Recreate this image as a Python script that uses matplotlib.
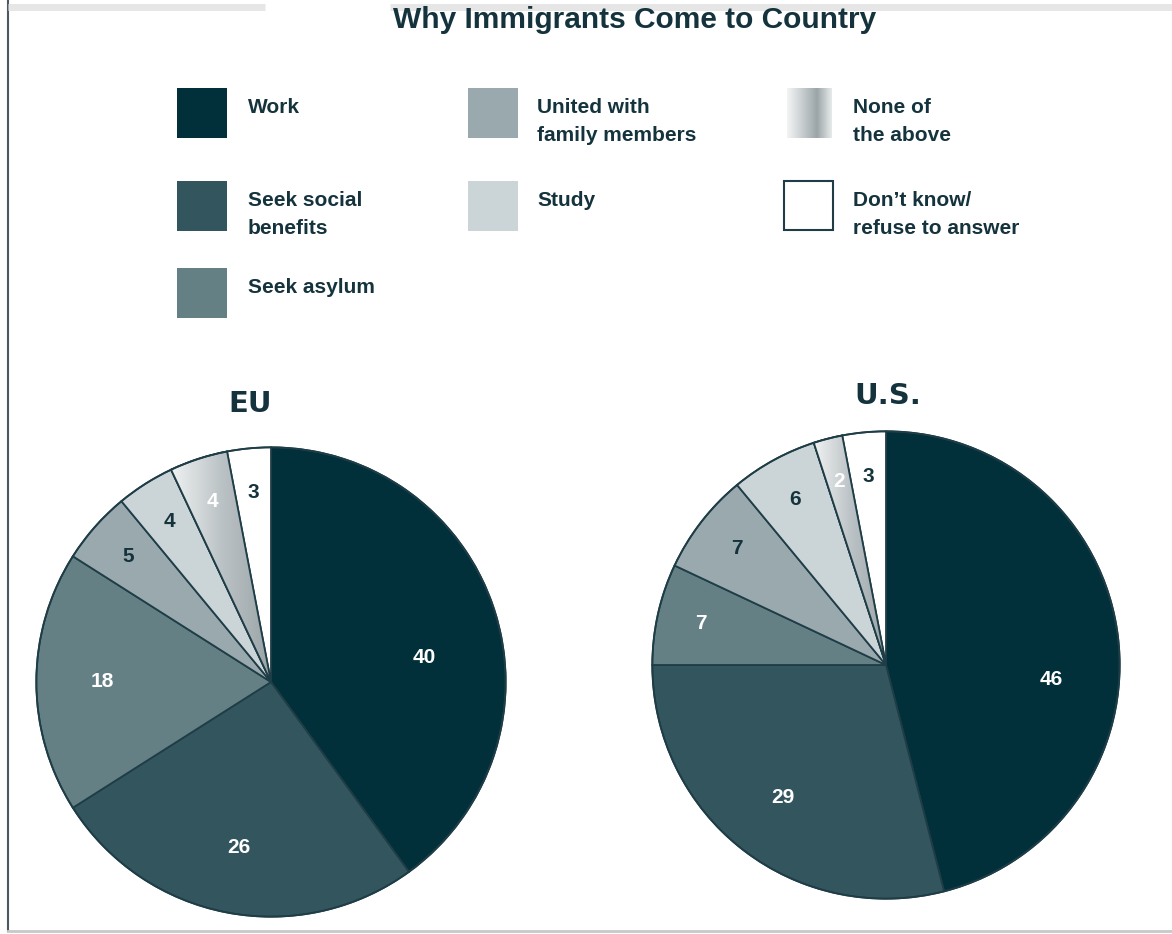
import numpy as np
import matplotlib
matplotlib.use("Agg")
import matplotlib.pyplot as plt
import matplotlib.patches as mpatches
from matplotlib.colors import LinearSegmentedColormap

# 数据
categories = ["Work", "Seek social benefits", "Seek asylum", "United with family members",
              "Study", "None of the above", "Don\u2019t know/ refuse to answer"]
legend_lines = [["Work"], ["Seek social", "benefits"], ["Seek asylum"],
                ["United with", "family members"], ["Study"],
                ["None of", "the above"], ["Don\u2019t know/", "refuse to answer"]]
eu_values = [40, 26, 18, 5, 4, 4, 3]
us_values = [46, 29, 7, 7, 6, 2, 3]
title = "Why Immigrants Come to Country"

# 样式
colors = ["#01303b", "#33555e", "#648085", "#99a9ae", "#cbd5d8", "#b9c1c4", "#ffffff"]
label_colors = ["white", "white", "white", "#15333d", "#15333d", "white", "#15333d"]
edge_col = "#1f3d47"
text_col = "#15333d"
W, H = 1172, 934

fig = plt.figure(figsize=(W / 100, H / 100), dpi=100)
ov = fig.add_axes([0, 0, 1, 1])
ov.set_axis_off()

# 边框线
ov.plot([8, 8], [0, 931], color="#4b5a60", lw=1.5)
ov.plot([8, W], [931, 931], color="#c8c8c8", lw=2)
ov.plot([8, 265], [7, 7], color="#e6e6e6", lw=5, solid_capstyle="butt")
ov.plot([390, W], [7, 7], color="#e6e6e6", lw=5, solid_capstyle="butt")

ov.text(635, 28, title, ha="center", va="baseline", fontsize=21.5,
        fontweight="bold", family="Liberation Sans", color=text_col)

# 图例（手动排列：3列）
legend_cmap = LinearSegmentedColormap.from_list(
    "leg", ["#f4f5f5", "#c9cfd1", "#9ba5a8", "#e8ebeb"])
col_x = [(177, 248), (468, 537), (784, 853)]
row_y = [88, 181, 268]
slots = [(0, 0), (0, 1), (0, 2), (1, 0), (1, 1), (2, 0), (2, 1)]
for i, (c, r) in enumerate(slots):
    sx, tx = col_x[c]
    sy = row_y[r]
    if i == 5:
        g = np.linspace(0, 1, 256).reshape(1, -1)
        ov.imshow(g, cmap=legend_cmap, extent=[sx + 3, sx + 48, sy + 50, sy],
                  aspect="auto", zorder=2)
    elif i == 6:
        ov.add_patch(mpatches.Rectangle((sx, sy), 49, 49, fc="white",
                                        ec=edge_col, lw=1.5))
    else:
        ov.add_patch(mpatches.Rectangle((sx, sy), 50, 50, fc=colors[i], ec="none"))
    for k, line in enumerate(legend_lines[i]):
        ov.text(tx, sy + 25 + 28 * k, line, ha="left", va="baseline",
                fontsize=15, fontweight="bold", family="Liberation Sans",
                color=text_col)

ov.set_xlim(0, W)
ov.set_ylim(H, 0)

pie_cmap = LinearSegmentedColormap.from_list("none", ["#f0f2f2", "#bcc3c6", "#9aa4a7"])


def draw_pie(values, cx, cy, r, name, name_xy, work_deg, work_r):
    ax = fig.add_axes([(cx - r) / W, (H - cy - r) / H, 2 * r / W, 2 * r / H])
    wedges, _ = ax.pie(values, colors=colors, startangle=90, counterclock=False,
                       wedgeprops=dict(edgecolor=edge_col, linewidth=1.3))
    # 渐变扇区
    w = wedges[5]
    ext = w.get_path().get_extents()
    g = np.linspace(0, 1, 256).reshape(1, -1)
    im = ax.imshow(g, cmap=pie_cmap, extent=[ext.x0, ext.x1, ext.y0, ext.y1],
                   aspect="auto", zorder=w.get_zorder() + 0.1)
    im.set_clip_path(w)
    ax.add_patch(mpatches.PathPatch(w.get_path(), fill=False, ec=edge_col,
                                    lw=1.3, zorder=w.get_zorder() + 0.2))
    ax.add_patch(mpatches.Circle((0, 0), 1, fill=False, ec=edge_col, lw=1.3, zorder=5))
    for i, (wd, v) in enumerate(zip(wedges, values)):
        ang = np.deg2rad((wd.theta1 + wd.theta2) / 2)
        rr = 0.72 if v >= 15 else 0.81
        if i == 0:
            ang = np.deg2rad(work_deg)
            rr = work_r
        ax.text(rr * np.cos(ang), rr * np.sin(ang), str(v), ha="center", va="center",
                fontsize=15, fontweight="bold", family="Liberation Sans",
                color=label_colors[i], zorder=6)
    ax.set_xlim(-1.01, 1.01)
    ax.set_ylim(-1.01, 1.01)
    ax.set_aspect("equal")
    ax.set_axis_off()
    ov.text(name_xy[0], name_xy[1], name, ha="center", va="baseline", fontsize=21,
            fontweight="bold", family="DejaVu Sans", color=text_col)


draw_pie(eu_values, 271, 682, 237, "EU", (250, 412), 9, 0.66)
draw_pie(us_values, 886, 665, 236, "U.S.", (888, 404), -5, 0.71)

fig.savefig("out.png", dpi=100)
